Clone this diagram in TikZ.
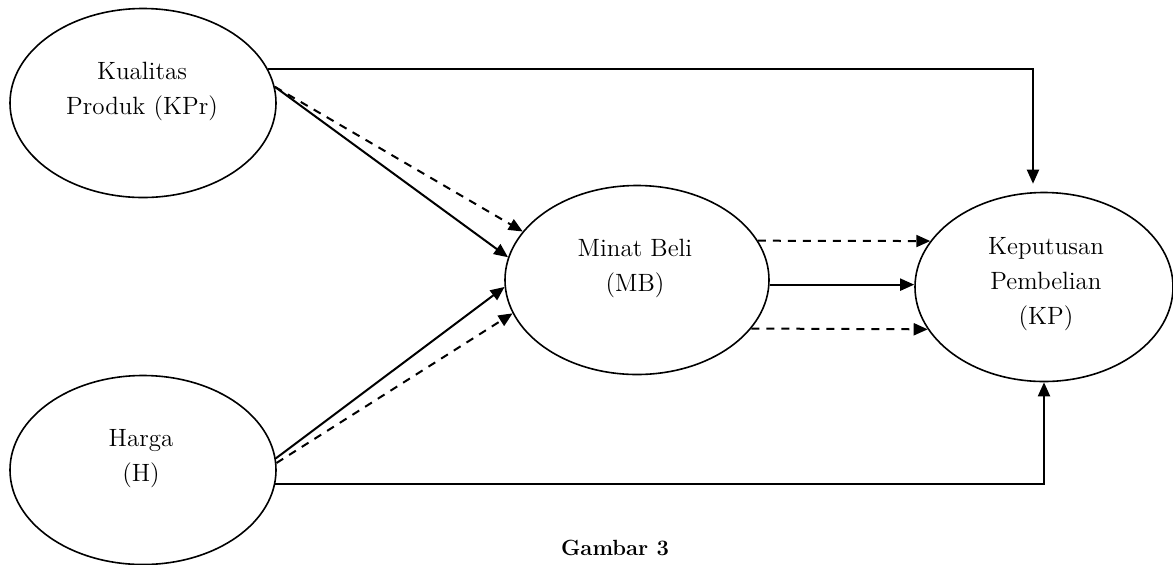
\documentclass[tikz,border=0pt]{standalone}
\usetikzlibrary{shapes.geometric,arrows.meta}
\begin{document}
\begin{tikzpicture}[x=0.5pt,y=-0.5pt,line width=1pt,>={Triangle[length=7pt,width=6pt]}]
  \tikzstyle{var}=[draw,ellipse,line width=0.8pt,inner sep=0pt,minimum width=133pt,minimum height=94.5pt]
  \tikzstyle{txt}=[align=center,inner sep=0pt,font=\fontsize{12.5}{17.5}\selectfont]
  \tikzstyle{ind}=[dash pattern=on 4pt off 3.5pt]
  \useasboundingbox (0,0) rectangle (1173,564);
  % latent variables
  \node[var] (kpr) at (143,103) {};
  \node[var] (h) at (143,470) {};
  \node[var,minimum width=132pt] (mb) at (637,280) {};
  \node[var,minimum width=129pt] (kp) at (1044,287) {};
  \node[txt] (kprtxt) at (142,91) {Kualitas\\Produk (KPr)};
  \node[txt] (htxt) at (141,459) {Harga\\(H)};
  \node[txt] (mbtxt) at (635,268) {Minat Beli\\(MB)};
  \node[txt] (kptxt) at (1046,284) {Keputusan\\Pembelian\\(KP)};
  % direct paths
  \draw[->] (kpr.15) -| ([xshift=-5.5pt,yshift=4pt]kp.north);
  \draw[->] (h.-6) -| (kp.south);
  \draw[->] (kpr.7) -- (mb.170);
  \draw[->] (h.5) -- (mb.183);
  \draw[->] (mb.-2) -- (mb.-2 -| kp.west);
  % mediated paths
  \draw[->,ind] (kpr.7) -- (mb.157);
  \draw[->,ind] (h.3) -- (mb.195);
  \draw[->,ind] (mb.18) -- (kp.158);
  \draw[->,ind] (mb.-23) -- (kp.200);
  \node[font=\bfseries\fontsize{11}{13}\selectfont] (cap) at (615,548) {Gambar 3};
\end{tikzpicture}
\end{document}
